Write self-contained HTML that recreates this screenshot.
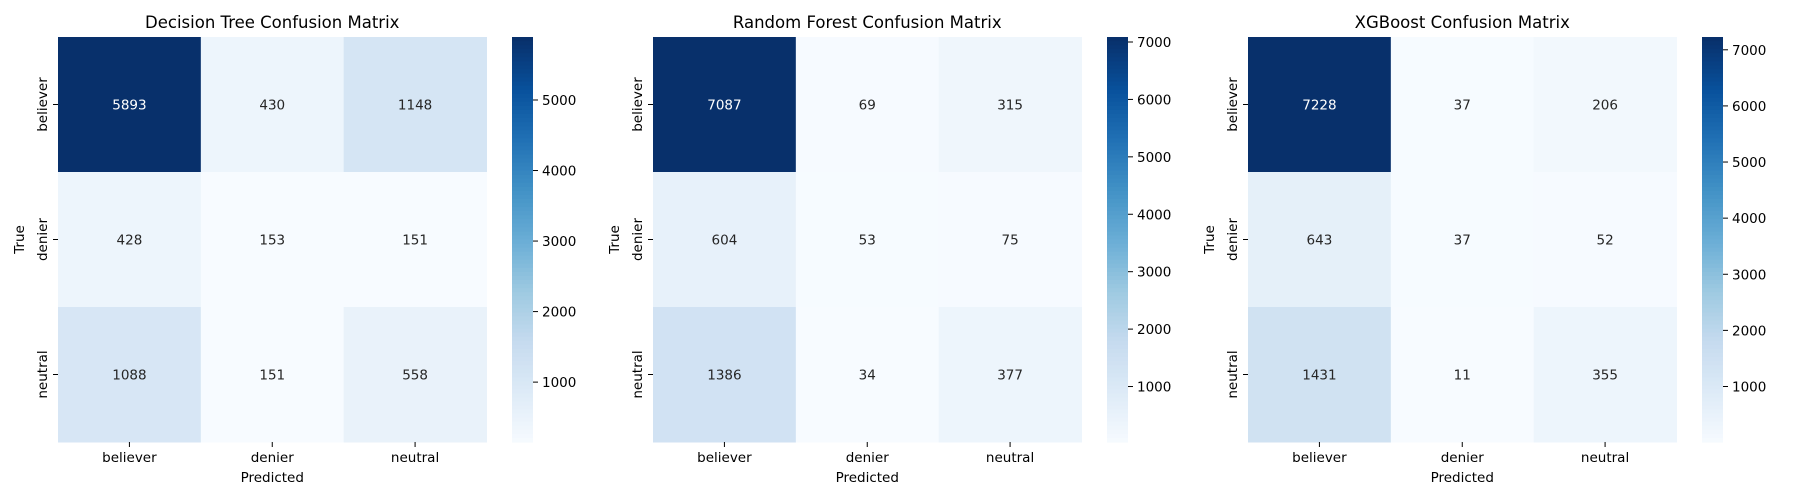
<!DOCTYPE html>
<html><head><meta charset="utf-8"><style>
body{margin:0;background:#fff;}
svg{display:block;font-family:"DejaVu Sans","Liberation Sans",sans-serif;}
</style></head><body>
<svg id="fig" width="1800" height="500" viewBox="0 0 1800 500" xmlns="http://www.w3.org/2000/svg"></svg>
<script>
const classes = ["believer","denier","neutral"];
const titles = ["Decision Tree Confusion Matrix","Random Forest Confusion Matrix","XGBoost Confusion Matrix"];
const dtValues = [[5893,430,1148],[428,153,151],[1088,151,558]];
const rfValues = [[7087,69,315],[604,53,75],[1386,34,377]];
const xgbValues = [[7228,37,206],[643,37,52],[1431,11,355]];
const cbTicks1 = [1000,2000,3000,4000,5000];
const cbTicks2 = [1000,2000,3000,4000,5000,6000,7000];
const cbTicks3 = [1000,2000,3000,4000,5000,6000,7000];
const matrices = [dtValues, rfValues, xgbValues];
const cbTicks = [cbTicks1, cbTicks2, cbTicks3];

const blues = ["#f7fbff","#deebf7","#c6dbef","#9ecae1","#6baed6","#4292c6","#2171b5","#08519c","#08306b"];
function hex(h){return [1,3,5].map(i=>parseInt(h.substr(i,2),16));}
function cmap(t){
  t=Math.max(0,Math.min(1,t));
  const p=t*(blues.length-1), i=Math.min(Math.floor(p),blues.length-2), f=p-i;
  const a=hex(blues[i]), b=hex(blues[i+1]);
  return a.map((v,k)=>Math.round(v+(b[k]-v)*f));
}
function lum(c){
  const r=c.map(v=>{v/=255;return v<=0.03928?v/12.92:Math.pow((v+0.055)/1.055,2.4);});
  return 0.2126*r[0]+0.7152*r[1]+0.0722*r[2];
}
const NS="http://www.w3.org/2000/svg";
const svg=document.getElementById('fig');
function mk(tag,attrs,parent){const e=document.createElementNS(NS,tag);for(const k in attrs)e.setAttribute(k,attrs[k]);(parent||svg).appendChild(e);return e;}

const top0=37, bottom0=442, W=428.5;
for(let m=0;m<3;m++){
  const left=58+m*595;
  const g=mk('g',{});
  
  
  const data=matrices[m];
  const flat=data.flat();
  const vmin=Math.min(...flat), vmax=Math.max(...flat);
  const cw=W/3, ch=(bottom0-top0)/3;
  const xScale=j=>left+j*cw;
  const yScale=i=>top0+i*ch;
  const t=mk('text',{x:left+W/2,y:28,'text-anchor':'middle','font-size':'16.5',fill:'#000'},g);
  t.textContent=titles[m];
  
  
  for(let i=0;i<3;i++)for(let j=0;j<3;j++){
    const v=data[i][j];
    const c=cmap((v-vmin)/(vmax-vmin));
    const r=mk('rect',{x:xScale(j),y:yScale(i),width:cw+0.5,height:ch+0.5,fill:`rgb(${c.join(',')})`},g);
    
    
    const tx=mk('text',{x:xScale(j)+cw/2,y:yScale(i)+ch/2+5,'text-anchor':'middle','font-size':'13.5',fill:lum(c)>0.408?'#262626':'#ffffff'},g);
    tx.textContent=v;
    
    
  }
  for(let k=0;k<3;k++){
    const cx=xScale(k)+cw/2;
    mk('line',{x1:cx,x2:cx,y1:bottom0,y2:bottom0+5,stroke:'#000','stroke-width':1},g);
    const xl=mk('text',{x:cx,y:462,'text-anchor':'middle','font-size':'13.5',fill:'#000'},g);
    xl.textContent=classes[k];
    
    
    const cy=yScale(k)+ch/2;
    mk('line',{x1:left-5,x2:left,y1:cy,y2:cy,stroke:'#000','stroke-width':1},g);
    const yl=mk('text',{x:0,y:0,'text-anchor':'middle','font-size':'13.5',fill:'#000',transform:`translate(${left-11},${cy}) rotate(-90)`},g);
    yl.textContent=classes[k];
    
    
  }
  const xt=mk('text',{x:left+W/2,y:482,'text-anchor':'middle','font-size':'13.5',fill:'#000'},g);
  xt.textContent='Predicted';
  
  
  const yt=mk('text',{x:0,y:0,'text-anchor':'middle','font-size':'13.5',fill:'#000',transform:`translate(${left-34},${(top0+bottom0)/2}) rotate(-90)`},g);
  yt.textContent='True';
  
  
  const cbx=left+454, cbw=21;
  const N=100;
  for(let s=0;s<N;s++){
    const c=cmap(1-s/N);
    const r=mk('rect',{x:cbx,y:top0+s*(bottom0-top0)/N,width:cbw,height:(bottom0-top0)/N+0.6,fill:`rgb(${c.join(',')})`},g);
    
    
  }
  const cbY=v=>bottom0-(v-vmin)/(vmax-vmin)*(bottom0-top0);
  for(const tv of cbTicks[m]){
    const y=cbY(tv);
    mk('line',{x1:cbx+cbw,x2:cbx+cbw+5,y1:y,y2:y,stroke:'#000','stroke-width':1},g);
    const tl=mk('text',{x:cbx+cbw+9,y:y+5,'font-size':'13.5',fill:'#000'},g);
    tl.textContent=tv;
    
    
  }
}
</script>
</body></html>
